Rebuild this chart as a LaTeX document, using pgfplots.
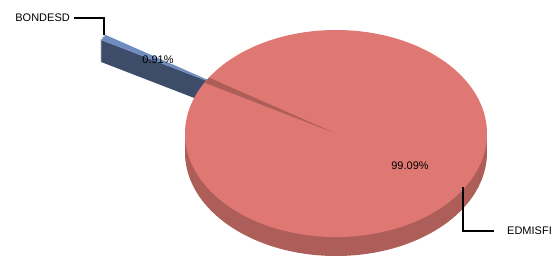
\documentclass[border=0pt]{standalone}
\usepackage{pgfplots}
\usepackage{pgfplotstable}
\pgfplotsset{compat=1.18}
\usepackage{fontspec}
\setmainfont{Liberation Sans}
\definecolor{redtop}{RGB}{223,120,114}
\definecolor{redside}{RGB}{174,94,89}
\definecolor{bluedark}{RGB}{61,77,105}
\definecolor{bluelight}{RGB}{110,140,190}
\definecolor{blueedge}{RGB}{170,180,200}

\pgfplotstableread{
label value
BONDESD 0.91
EDMISFI 99.09
}\piedata

\begin{document}
\begin{tikzpicture}
\pgfplotstablegetelem{0}{value}\of\piedata \let\vb\pgfplotsretval
\pgfplotstablegetelem{1}{value}\of\piedata \let\ve\pgfplotsretval
\pgfmathsetmacro{\tot}{\vb+\ve}
\pgfmathsetmacro{\ta}{147.3}
\pgfmathsetmacro{\tb}{\ta+360*\vb/\tot}
\pgfmathsetmacro{\tm}{(\ta+\tb)/2}
\def\cx{336}\def\cy{133.5}\def\rx{151}\def\ry{103.5}\def\dep{19}\def\bdep{22}
\pgfmathsetmacro{\Ax}{\cx+0.8*\rx*cos(\tm)}
\pgfmathsetmacro{\Ay}{\cy-0.8*\ry*sin(\tm)}
\pgfmathsetmacro{\Aby}{\Ay+\bdep}
\pgfmathsetmacro{\Pax}{\Ax+\rx*cos(\ta)}
\pgfmathsetmacro{\Pay}{\Ay-\ry*sin(\ta)}
\pgfmathsetmacro{\Pbx}{\Ax+\rx*cos(\tb)}
\pgfmathsetmacro{\Pby}{\Ay-\ry*sin(\tb)}
\pgfmathsetmacro{\Pbby}{\Pby+\bdep}
\pgfmathsetmacro{\Gax}{\cx+\rx*cos(\ta)}
\pgfmathsetmacro{\Gay}{\cy-\ry*sin(\ta)}
\pgfmathsetmacro{\Gbx}{\cx+\rx*cos(\tb)}
\pgfmathsetmacro{\Gby}{\cy-\ry*sin(\tb)}
\pgfmathsetmacro{\cyd}{\cy+\dep}
\pgfmathsetmacro{\xl}{\cx-\rx}
\pgfmathsetmacro{\xr}{\cx+\rx}
\begin{axis}[width=554pt, height=257pt, scale only axis,
  xmin=0, xmax=554, ymin=0, ymax=257, y dir=reverse,
  hide axis, clip=false]
\addplot[draw=none, forget plot] coordinates {(0,0) (554,257)};
% exploded BONDESD slice
\addplot[fill=bluedark, draw=none] coordinates {(\Ax,\Ay) (\Pbx,\Pby) (\Pbx,\Pbby) (\Ax,\Aby)} --cycle;
\addplot[fill=bluelight, draw=none] coordinates {(\Ax,\Ay) (\Pax,\Pay) (\Pbx,\Pby)} --cycle;
\addplot[draw=blueedge, line width=0.8pt] coordinates {(\Pax,\Pay) (\Pbx,\Pby) (\Pbx,\Pbby)};
% EDMISFI slice
\fill[redside] (axis cs:\cx,\cyd) ellipse [x radius=\rx, y radius=\ry];
\addplot[fill=redside, draw=none] coordinates {(\xl,\cy) (\xr,\cy) (\xr,\cyd) (\xl,\cyd)} --cycle;
\fill[redtop] (axis cs:\cx,\cy) ellipse [x radius=\rx, y radius=\ry];
\addplot[fill=redside, draw=none] coordinates {(\cx,\cy) (\Gax,\Gay) (\Gbx,\Gby)} --cycle;
% labels
\node[font=\fontsize{11}{13}\selectfont, inner sep=0pt] at (axis cs:410,166) {99.09\%};
\node[font=\fontsize{11}{13}\selectfont, inner sep=0pt] at (axis cs:158,60) {0.91\%};
\node[font=\fontsize{11}{13}\selectfont, inner sep=0pt, anchor=east] at (axis cs:70,18) {BONDESD};
\node[font=\fontsize{11}{13}\selectfont, inner sep=0pt, anchor=west] at (axis cs:507,231) {EDMISFI};
\draw[line width=1.5pt] (axis cs:74,18) -| (axis cs:104,35);
\draw[line width=1.5pt] (axis cs:463,187) |- (axis cs:494,231);
\end{axis}
\end{tikzpicture}
\end{document}
